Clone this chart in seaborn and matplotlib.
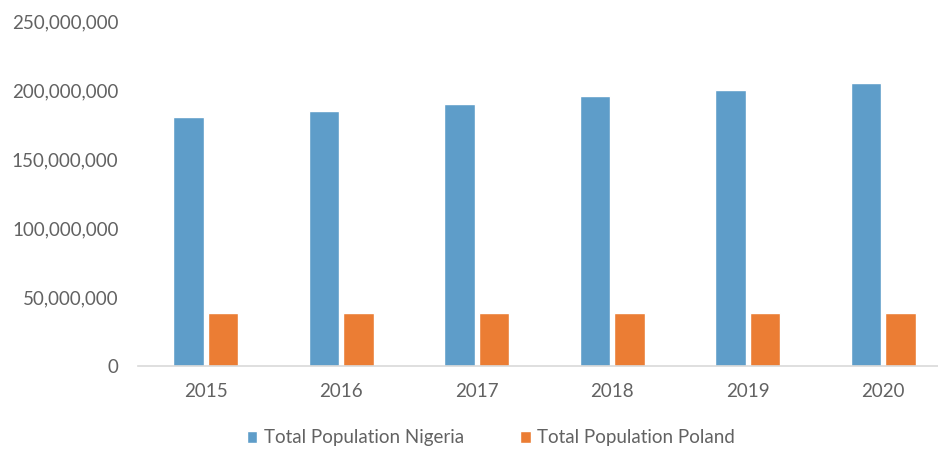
import matplotlib
matplotlib.use("Agg")
import matplotlib.pyplot as plt
from matplotlib.ticker import FuncFormatter
import seaborn as sns
import pandas as pd

years = ["2015", "2016", "2017", "2018", "2019", "2020"]
nigeria = [180.5e6, 185.0e6, 190.2e6, 195.3e6, 200.2e6, 205.3e6]
poland = [38.1e6, 38.1e6, 38.1e6, 38.1e6, 38.1e6, 38.1e6]
series_names = ["Total Population Nigeria", "Total Population Poland"]
colors = ["#5E9DC9", "#EB7D34"]

df = pd.DataFrame({
    "Year": years * 2,
    "Population": nigeria + poland,
    "Series": [series_names[0]] * len(years) + [series_names[1]] * len(years),
})

sns.set_theme(style="white")
plt.rcParams["font.family"] = ["Lato", "DejaVu Sans"]

W, H = 938, 453
fig = plt.figure(figsize=(W / 100, H / 100), dpi=100)
left, right = 138, 951
y0, ytop = 366, 21
ax = fig.add_axes([left / W, (H - y0) / H, (right - left) / W, (y0 - ytop) / H])

sns.barplot(data=df, x="Year", y="Population", hue="Series",
            palette=colors, width=0.51, gap=0.13, ax=ax, saturation=1)

text_color = "#626262"
ax.set_ylim(0, 250e6)
ax.set_yticks([0, 50e6, 100e6, 150e6, 200e6, 250e6])
ax.yaxis.set_major_formatter(FuncFormatter(lambda v, p: f"{int(v):,}"))
ax.set_xlabel("")
ax.set_ylabel("")
ax.tick_params(axis="both", length=0, labelsize=13.5, colors=text_color)
ax.tick_params(axis="y", pad=14)
ax.tick_params(axis="x", pad=12)
for s in ["top", "right", "left"]:
    ax.spines[s].set_visible(False)
ax.spines["bottom"].set_color("#D9D9D9")
ax.spines["bottom"].set_linewidth(1.2)
ax.grid(False)

handles, labels = ax.get_legend_handles_labels()
ax.legend_.remove()
fig.legend(handles, labels, loc="center", bbox_to_anchor=(491 / W, 1 - 438 / H),
           ncol=2, frameon=False, fontsize=13.5, labelcolor=text_color,
           handlelength=0.55, handleheight=0.55, handletextpad=0.35, columnspacing=3.0)

fig.savefig("out.png", dpi=100)
